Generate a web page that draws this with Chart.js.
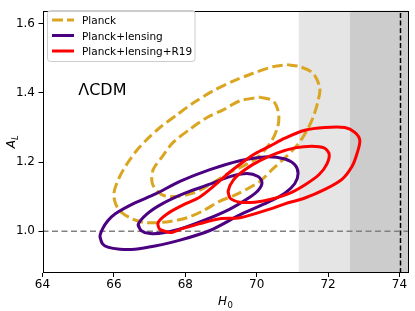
<!DOCTYPE html>
<html>
<head>
<meta charset="utf-8">
<script src="https://cdn.jsdelivr.net/npm/chart.js@4.4.1/dist/chart.umd.min.js"></script>
<style>
  html, body { margin: 0; padding: 0; background: #fff; }
</style>
</head>
<body>
<canvas id="contours" width="415" height="311"></canvas>
<script>
// axes
const xRange = [64, 74.24];
const yRange = [0.879, 1.638];
const xTicks = [64, 66, 68, 70, 72, 74];
const yTicks = [1.0, 1.2, 1.4, 1.6];

// R19 bands on H0 and the reference lines
const bandInner = [71.18, 72.61];
const bandOuter = [72.61, 74.24];
const r19Mean = 74.03;
const alRef = 1.0;

const legendLabels = ['Planck', 'Planck+lensing', 'Planck+lensing+R19'];
const modelLabel = 'ΛCDM';
const modelLabelAt = [65.0, 1.395];

// contours, [H0, A_L]
const planckOuter = [
  [70.85, 1.482], [71.21, 1.476], [71.58, 1.457], [71.77, 1.414], [71.72, 1.377],
  [71.58, 1.329], [71.41, 1.292], [71.16, 1.252], [70.79, 1.212], [70.43, 1.178],
  [70.09, 1.144], [69.45, 1.107], [68.97, 1.087], [68.50, 1.059], [68.05, 1.039],
  [67.57, 1.028], [67.24, 1.025], [66.87, 1.025], [66.51, 1.036], [66.23, 1.053],
  [66.06, 1.076], [66.00, 1.110], [66.14, 1.153], [66.37, 1.195], [66.65, 1.235],
  [66.93, 1.266], [67.29, 1.300], [67.77, 1.337], [68.22, 1.371], [68.78, 1.406],
  [69.34, 1.434], [69.90, 1.457], [70.46, 1.476]
];
const planckInner = [
  [70.09, 1.388], [70.46, 1.377], [70.60, 1.349], [70.62, 1.320], [70.57, 1.295],
  [70.43, 1.263], [70.23, 1.235], [69.95, 1.207], [69.53, 1.184], [69.25, 1.170],
  [68.61, 1.130], [68.22, 1.110], [67.80, 1.101], [67.46, 1.101], [67.21, 1.116],
  [67.07, 1.141], [67.10, 1.178], [67.35, 1.215], [67.66, 1.257], [68.13, 1.295],
  [68.61, 1.329], [69.06, 1.351], [69.53, 1.377]
];
const lensOuter = [
  [65.61, 0.985], [65.67, 0.965], [65.83, 0.954], [66.17, 0.948], [66.59, 0.948],
  [67.15, 0.957], [67.85, 0.974], [68.69, 1.002], [69.53, 1.047], [70.32, 1.084],
  [70.79, 1.110], [71.07, 1.138], [71.16, 1.167], [71.07, 1.192], [70.79, 1.209],
  [70.23, 1.215], [69.53, 1.204], [68.69, 1.178], [67.85, 1.144], [67.15, 1.107],
  [66.59, 1.082], [66.03, 1.050], [65.83, 1.030], [65.69, 1.008]
];
const lensInner = [
  [66.68, 1.019], [66.76, 1.002], [67.01, 0.993], [67.43, 0.996], [67.99, 1.011],
  [68.64, 1.036], [69.25, 1.064], [69.73, 1.093], [70.04, 1.118], [70.15, 1.141],
  [70.04, 1.158], [69.73, 1.167], [69.25, 1.158], [68.69, 1.136], [67.99, 1.110],
  [67.35, 1.079], [66.93, 1.050]
];
const r19Outer = [
  [67.29, 1.005], [67.57, 0.996], [67.94, 1.008], [68.41, 1.022], [68.97, 1.036],
  [69.53, 1.039], [70.37, 1.064], [70.79, 1.079], [71.35, 1.096], [71.91, 1.121],
  [72.39, 1.150], [72.67, 1.187], [72.81, 1.224], [72.89, 1.263], [72.75, 1.286],
  [72.47, 1.300], [71.91, 1.300], [71.35, 1.292], [70.79, 1.269], [70.37, 1.246],
  [69.95, 1.224], [69.59, 1.198], [69.20, 1.167], [68.83, 1.133], [68.41, 1.099],
  [67.94, 1.076], [67.49, 1.050], [67.24, 1.025]
];
const r19Inner = [
  [69.20, 1.116], [69.25, 1.096], [69.53, 1.084], [69.95, 1.084], [70.43, 1.093],
  [70.93, 1.110], [71.38, 1.136], [71.75, 1.164], [71.97, 1.195], [72.03, 1.224],
  [71.89, 1.241], [71.55, 1.246], [71.07, 1.241], [70.57, 1.226], [70.09, 1.204],
  [69.67, 1.178], [69.36, 1.150]
];

const GOLD = '#DAA520';
const INDIGO = '#4B0082';
const RED = '#FF0000';
const FONT = '"DejaVu Sans", sans-serif';

function closed(arr, solid) {
  const pts = arr.map(([x, y]) => ({ x, y }));
  // solid lines overlap the first segment again so the join stays smooth
  return solid ? pts.concat([pts[0], pts[1]]) : pts.concat([pts[0]]);
}

function contour(arr, color, dashed, order) {
  return {
    data: closed(arr, !dashed),
    borderColor: color,
    borderWidth: 3,
    borderDash: dashed ? [10.5, 4.5] : [],
    showLine: true,
    pointRadius: 0,
    tension: 0.3,
    order: order
  };
}

const datasets = [
  contour(r19Outer, RED, false, 0),
  contour(r19Inner, RED, false, 0),
  contour(lensOuter, INDIGO, false, 1),
  contour(lensInner, INDIGO, false, 1),
  contour(planckOuter, GOLD, true, 2),
  contour(planckInner, GOLD, true, 2),
  {
    data: [{ x: xRange[0], y: alRef }, { x: xRange[1], y: alRef }],
    borderColor: '#808080', borderWidth: 1.5, borderDash: [6, 3.5],
    showLine: true, pointRadius: 0, order: 3
  },
  {
    data: [{ x: r19Mean, y: yRange[0] }, { x: r19Mean, y: yRange[1] }],
    borderColor: '#000', borderWidth: 1.5, borderDash: [5, 2.5],
    showLine: true, pointRadius: 0, order: 3
  }
];

const legendStyles = [
  { color: GOLD, dash: [11, 4] },
  { color: INDIGO, dash: [] },
  { color: RED, dash: [] }
];

const decor = {
  id: 'decor',
  beforeDatasetsDraw(chart) {
    const { ctx, chartArea: a, scales: { x } } = chart;
    ctx.save();
    const b0 = x.getPixelForValue(bandInner[0]), b1 = x.getPixelForValue(bandInner[1]);
    ctx.fillStyle = '#e5e5e5';
    ctx.fillRect(b0, a.top, b1 - b0, a.bottom - a.top);
    const c1 = Math.min(x.getPixelForValue(bandOuter[1]), a.right);
    ctx.fillStyle = '#cccccc';
    ctx.fillRect(b1, a.top, c1 - b1, a.bottom - a.top);
    ctx.restore();
  },
  afterDatasetsDraw(chart) {
    const { ctx, chartArea: a, scales: { x, y } } = chart;
    ctx.save();

    // frame
    ctx.strokeStyle = '#000';
    ctx.lineWidth = 1;
    ctx.strokeRect(Math.round(a.left) + 0.5, Math.round(a.top) + 0.5,
      Math.round(a.right - a.left) - 1, Math.round(a.bottom - a.top) - 1);

    // model label
    ctx.fillStyle = '#000';
    ctx.font = '16px ' + FONT;
    ctx.textBaseline = 'alphabetic';
    ctx.fillText(modelLabel, x.getPixelForValue(modelLabelAt[0]), y.getPixelForValue(modelLabelAt[1]));

    // legend
    const lx = 47.5, ly = 10.5, lw = 147.5, lh = 51;
    ctx.beginPath();
    ctx.roundRect(lx, ly, lw, lh, 3);
    ctx.fillStyle = 'rgba(255,255,255,0.8)';
    ctx.fill();
    ctx.strokeStyle = '#cccccc';
    ctx.lineWidth = 1;
    ctx.stroke();
    ctx.font = '10.5px ' + FONT;
    legendLabels.forEach((label, i) => {
      const ry = 20 + i * 15.5;
      ctx.beginPath();
      ctx.setLineDash(legendStyles[i].dash);
      ctx.strokeStyle = legendStyles[i].color;
      ctx.lineWidth = 3;
      ctx.moveTo(52, ry);
      ctx.lineTo(74, ry);
      ctx.stroke();
      ctx.setLineDash([]);
      ctx.fillStyle = '#000';
      ctx.fillText(label, 82, ry + 4);
    });

    // axis titles with subscripts
    const cx = (a.left + a.right) / 2;
    ctx.font = 'italic 12px ' + FONT;
    const wH = ctx.measureText('H').width;
    ctx.font = '8.5px ' + FONT;
    const w0 = ctx.measureText('0').width;
    const sx = cx - (wH + w0) / 2;
    ctx.font = 'italic 12px ' + FONT;
    ctx.fillText('H', sx, 305);
    ctx.font = '8.5px ' + FONT;
    ctx.fillText('0', sx + wH + 0.5, 308);

    const cy = (a.top + a.bottom) / 2;
    ctx.translate(15, cy);
    ctx.rotate(-Math.PI / 2);
    ctx.font = 'italic 12px ' + FONT;
    const wA = ctx.measureText('A').width;
    ctx.font = 'italic 8.5px ' + FONT;
    const wL = ctx.measureText('L').width;
    const start = -(wA + wL) / 2;
    ctx.font = 'italic 12px ' + FONT;
    ctx.fillText('A', start, 0);
    ctx.font = 'italic 8.5px ' + FONT;
    ctx.fillText('L', start + wA, 3);
    ctx.restore();
  }
};

const tickFont = { family: FONT, size: 12 };

new Chart(document.getElementById('contours'), {
  type: 'scatter',
  data: { datasets },
  options: {
    responsive: false,
    animation: false,
    events: [],
    layout: { padding: { top: 6, right: 7, left: 0, bottom: 0 } },
    plugins: { legend: { display: false }, tooltip: { enabled: false } },
    scales: {
      x: {
        type: 'linear', min: xRange[0], max: xRange[1],
        afterBuildTicks: s => { s.ticks = xTicks.map(v => ({ value: v })); },
        afterFit: s => { s.height = 38; },
        grid: { drawOnChartArea: false, drawTicks: true, tickLength: 4, tickColor: '#000' },
        border: { display: false },
        ticks: { font: tickFont, color: '#000', padding: 1, autoSkip: false, maxRotation: 0,
          callback: v => String(v) }
      },
      y: {
        type: 'linear', min: yRange[0], max: yRange[1],
        afterBuildTicks: s => { s.ticks = yTicks.map(v => ({ value: v })); },
        afterFit: s => { s.width = 42.5; },
        grid: { drawOnChartArea: false, drawTicks: true, tickLength: 4, tickColor: '#000' },
        border: { display: false },
        ticks: { font: tickFont, color: '#000', padding: 3.5, autoSkip: false,
          callback: v => v.toFixed(1) }
      }
    }
  },
  plugins: [decor]
});
</script>
</body>
</html>
